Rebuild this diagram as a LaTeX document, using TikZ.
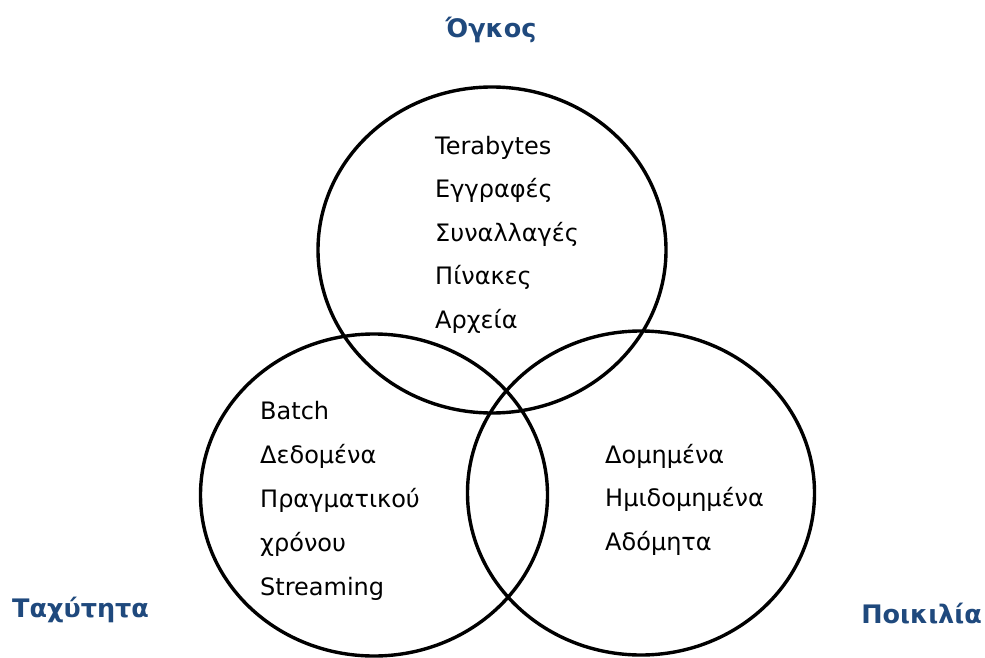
\documentclass[tikz,border=0pt]{standalone}
\usepackage{fontspec}
\setmainfont{DejaVu Sans}
\definecolor{titleblue}{RGB}{31,73,125}
\tikzset{
  ring/.style={draw=black, line width=3.4pt},
  item/.style={anchor=base west, inner sep=0pt, font=\fontsize{24}{28}\selectfont},
  vtitle/.style={anchor=base, inner sep=0pt, text=titleblue, font=\fontsize{25.5}{30}\selectfont\bfseries}
}
\begin{document}
\begin{tikzpicture}[x=1pt, y=-1pt]
  \useasboundingbox (0,0) rectangle (985,658);
  % the three overlapping rings
  \draw[ring] (492,250) ellipse [x radius=174, y radius=163];
  \draw[ring] (374,495) ellipse [x radius=173.5, y radius=161];
  \draw[ring] (641,493) ellipse [x radius=173.5, y radius=162];

  % volume
  \foreach \txt [count=\i] in {Terabytes, Εγγραφές, Συναλλαγές, Πίνακες, Αρχεία}
    \node[item] (vol\i) at (435, {154 + 43.5*(\i-1)}) {\txt};
  % velocity
  \foreach \txt [count=\i] in {Batch, Δεδομένα, Πραγματικού, χρόνου, Streaming}
    \node[item] (vel\i) at (260, {419 + 44*(\i-1)}) {\txt};
  % variety
  \foreach \txt [count=\i] in {Δομημένα, Ημιδομημένα, Αδόμητα}
    \node[item] (var\i) at (605, {463 + 43.5*(\i-1)}) {\txt};

  % dimension titles
  \node[vtitle] (volume) at (491,38) {Όγκος};
  \node[vtitle, anchor=base west] (velocity) at (12,617) {Ταχύτητα};
  \node[vtitle, anchor=base east] (variety) at (982,623) {Ποικιλία};
\end{tikzpicture}
\end{document}
